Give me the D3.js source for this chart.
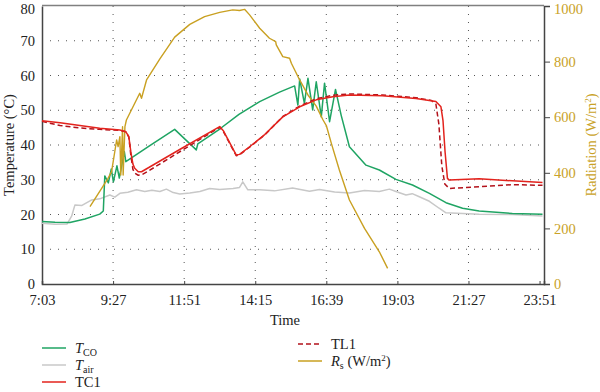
<!DOCTYPE html>
<html><head><meta charset="utf-8">
<script src="https://cdn.jsdelivr.net/npm/d3@7"></script>
<style>
body{margin:0;background:#fff;}
text{font-family:"Liberation Serif","Times New Roman",serif;}
</style></head>
<body><svg id="c" width="600" height="392"></svg>
<script>
// time in decimal hours
const xTickValues = [7.05, 9.45, 11.85, 14.25, 16.65, 19.05, 21.45, 23.85];
const xTickLabels = ["7:03","9:27","11:51","14:15","16:39","19:03","21:27","23:51"];
const yTicks = [0,10,20,30,40,50,60,70,80];
const rTicks = [0,200,400,600,800,1000];

const tcoTime = [7.05,7.49,7.99,8.50,9.00,9.12,9.17,9.29,9.39,9.46,9.58,9.66,9.83,9.88,10.69,11.53,12.26,12.31,13.05,13.70,14.40,15.07,15.58,15.69,15.75,15.91,16.03,16.19,16.31,16.48,16.59,16.76,16.96,17.15,17.43,17.99,18.44,19.00,19.56,20.13,20.69,21.25,21.81,22.93,23.95];
const tcoVal  = [18.0,17.8,17.7,18.7,20.1,21.0,31.1,29.1,33.1,29.4,34.0,30.5,38.1,35.2,39.8,44.5,38.6,40.3,44.6,48.8,52.5,55.2,57.0,51.5,59.0,52.0,59.2,50.1,58.2,48.1,57.8,46.7,56.0,48.6,39.5,34.2,32.8,30.1,28.5,26.1,23.4,21.8,21.0,20.3,20.1];

const airTime = [7.05,7.49,7.90,8.05,8.16,8.40,8.73,9.00,9.34,9.51,9.68,9.95,10.24,10.52,10.76,11.03,11.25,11.48,11.70,12.04,12.38,12.71,13.05,13.50,13.72,13.83,14.00,14.40,14.90,15.51,16.08,16.42,16.93,17.43,17.94,18.44,18.78,19.00,19.34,19.55,19.79,20.13,20.46,20.69,21.81,22.92,23.95];
const airVal  = [17.5,17.2,17.3,19.5,22.7,22.6,24.2,24.5,25.6,25.0,26.1,26.4,27.1,26.6,27.0,26.6,27.3,26.3,25.9,26.2,26.6,27.5,27.2,27.5,27.8,29.4,27.1,27.1,26.8,27.6,26.7,27.2,26.5,26.2,26.9,26.6,27.3,26.6,25.6,26.0,25.1,23.8,21.8,20.5,20.1,20.0,19.6];

const tc1Time = [7.05,7.66,8.33,9.00,9.68,9.88,9.98,10.05,10.12,10.18,10.30,10.41,11.70,13.05,13.18,13.61,13.72,14.06,14.57,15.18,15.75,16.31,16.87,17.43,18.54,19.68,20.35,20.52,20.59,20.66,20.74,20.80,21.81,22.93,23.95];
const tc1Val  = [47.0,46.4,45.6,44.8,44.3,43.8,42.5,38.0,34.5,33.3,32.3,32.3,38.7,45.3,44.0,37.1,37.3,39.5,43.0,48.1,51.0,53.0,53.9,54.4,54.2,53.4,52.5,51.0,47.0,38.0,30.4,29.9,30.3,29.7,29.2];

const tl1Time = [7.05,7.66,8.33,9.00,9.68,9.88,9.98,10.05,10.12,10.18,10.30,10.41,10.60,13.05,13.18,13.61,13.72,14.06,14.57,15.18,15.75,16.31,16.87,17.43,18.54,19.68,20.20,20.35,20.45,20.55,20.65,20.80,21.81,22.93,23.95];
const tl1Val  = [46.8,45.6,44.9,44.5,44.2,43.8,42.3,37.0,33.0,31.9,31.3,31.4,32.3,45.1,43.8,36.9,37.2,39.4,42.9,48.2,51.2,53.3,54.3,54.7,54.4,53.6,52.8,51.8,46.0,34.0,28.8,27.5,28.0,28.6,28.4];

const rsTime = [8.67,9.28,9.40,9.57,9.62,9.68,9.71,9.77,9.79,9.85,9.90,10.35,10.41,10.58,11.03,11.53,12.04,12.54,13.05,13.49,13.72,13.89,14.06,14.40,14.73,14.94,14.96,15.18,15.41,15.47,15.75,16.03,16.31,16.54,16.65,16.82,17.09,17.43,17.94,18.44,18.72];
const rsVal  = [278,380,404,518,494,530,392,566,392,566,590,686,668,734,810,888,934,962,977,986,984,988,968,920,884,872,860,818,812,794,734,680,640,590,570,506,410,302,200,116,56];

const W = 600, H = 392;
const m = {left:42, right:56, top:6, bottom:108};
const x0 = m.left, x1 = W - m.right, y0 = H - m.bottom, y1 = m.top;

const svg = d3.select("#c");
const x = d3.scaleLinear().domain([7.05, 24.0]).range([x0, x1]);
const y = d3.scaleLinear().domain([0, 80]).range([y0, y1]);
const yr = d3.scaleLinear().domain([0, 1000]).range([y0, y1]);

// grid
const grid = svg.append("g");
yTicks.filter(v => v > 0 && v < 80).forEach(v => {
  grid.append("line").attr("x1", x0).attr("x2", x1).attr("y1", y(v)).attr("y2", y(v))
    .attr("stroke", "#555").attr("stroke-width", 1).attr("stroke-dasharray", "1,7");
});
xTickValues.slice(1, -1).forEach(v => {
  grid.append("line").attr("x1", x(v)).attr("x2", x(v)).attr("y1", y1).attr("y2", y0)
    .attr("stroke", "#555").attr("stroke-width", 1).attr("stroke-dasharray", "1,7");
});

// frame top
svg.append("line").attr("x1", x0).attr("x2", x1).attr("y1", y1 - 0.5).attr("y2", y1 - 0.5)
  .attr("stroke", "#808080").attr("stroke-width", 1.5);

// axes
const fmt = d3.format("d");
const gx = svg.append("g").attr("transform", `translate(0,${y0})`)
  .call(d3.axisBottom(x).tickValues(xTickValues).tickFormat((d, i) => xTickLabels[i]).tickSize(-3).tickPadding(11));
const gy = svg.append("g").attr("transform", `translate(${x0},0)`)
  .call(d3.axisLeft(y).tickValues(yTicks).tickFormat(fmt).tickSize(0).tickPadding(7));
const gr = svg.append("g").attr("transform", `translate(${x1},0)`)
  .call(d3.axisRight(yr).tickValues(rTicks).tickFormat(fmt).tickSize(6).tickPadding(4));

[gx, gy, gr].forEach(g => {
  g.select(".domain").attr("stroke", "#444").attr("stroke-width", 1.5);
  g.selectAll("text").attr("font-family", "Liberation Serif, serif").attr("font-size", 14.5).attr("fill", "#222");
  g.selectAll(".tick line").attr("stroke", "#444");
});
gr.selectAll("text").attr("fill", "#c9a227");
gr.selectAll(".tick line").attr("stroke", "#444");
// keep the topmost labels inside the picture
gy.selectAll(".tick text").filter(d => d === 80).attr("dy", "0.55em");
gr.selectAll(".tick text").filter(d => d === 1000).attr("dy", "0.55em");

// lines
const mk = (t, v, sc) => t.map((d, i) => [x(d), sc(v[i])]);
const line = d3.line();
const plot = (t, v, sc, color, w, dash) => {
  const p = svg.append("path").attr("d", line(mk(t, v, sc))).attr("fill", "none")
    .attr("stroke", color).attr("stroke-width", w).attr("stroke-linejoin", "round");
  if (dash) p.attr("stroke-dasharray", dash);
};
const cCO = "#1fa463", cAir = "#c8c8c8", cTC = "#e3231d", cTL = "#b3121b", cRs = "#c9a021";
plot(airTime, airVal, y, cAir, 1.5);
plot(tcoTime, tcoVal, y, cCO, 1.5);
plot(rsTime, rsVal, yr, cRs, 1.4);
plot(tl1Time, tl1Val, y, cTL, 1.5, "5,3");
plot(tc1Time, tc1Val, y, cTC, 1.5);

// axis titles
svg.append("text").attr("x", (x0 + x1) / 2 - 8).attr("y", 325).attr("text-anchor", "middle")
  .attr("font-size", 14.5).attr("fill", "#222").text("Time");
svg.append("text").attr("transform", `translate(14,${(y0 + y1) / 2}) rotate(-90)`).attr("text-anchor", "middle")
  .attr("font-size", 14.5).attr("fill", "#222").text("Temperature (°C)");
const rt = svg.append("text").attr("transform", `translate(596,${(y0 + y1) / 2}) rotate(-90)`).attr("text-anchor", "middle")
  .attr("font-size", 14.5).attr("fill", "#c9a227");
rt.append("tspan").text("Radiation (W/m");
rt.append("tspan").attr("dy", -5).attr("font-size", 9).text("2");
rt.append("tspan").attr("dy", 5).text(")");

// legend
const leg = svg.append("g");
const legItem = (lx, ly, color, dash, build) => {
  const l = leg.append("line").attr("x1", lx).attr("x2", lx + 24).attr("y1", ly).attr("y2", ly)
    .attr("stroke", color).attr("stroke-width", 1.5);
  if (dash) l.attr("stroke-dasharray", "5,3");
  const t = leg.append("text").attr("x", lx + 33).attr("y", ly + 5).attr("font-size", 14.5).attr("fill", "#222");
  build(t);
};
legItem(42, 348, cCO, null, t => { t.append("tspan").attr("font-style", "italic").text("T"); t.append("tspan").attr("dy", 3).attr("font-size", 10).text("CO"); });
legItem(42, 365, cAir, null, t => { t.append("tspan").attr("font-style", "italic").text("T"); t.append("tspan").attr("dy", 3).attr("font-size", 10).text("air"); });
legItem(42, 382, cTC, null, t => { t.text("TC1"); });
legItem(298, 344, cTL, true, t => { t.text("TL1"); });
legItem(298, 361, cRs, null, t => {
  t.append("tspan").attr("font-style", "italic").text("R");
  t.append("tspan").attr("dy", 3).attr("font-size", 10).text("s");
  t.append("tspan").attr("dy", -3).text(" (W/m");
  t.append("tspan").attr("dy", -5).attr("font-size", 9).text("2");
  t.append("tspan").attr("dy", 5).text(")");
});
</script></body></html>
